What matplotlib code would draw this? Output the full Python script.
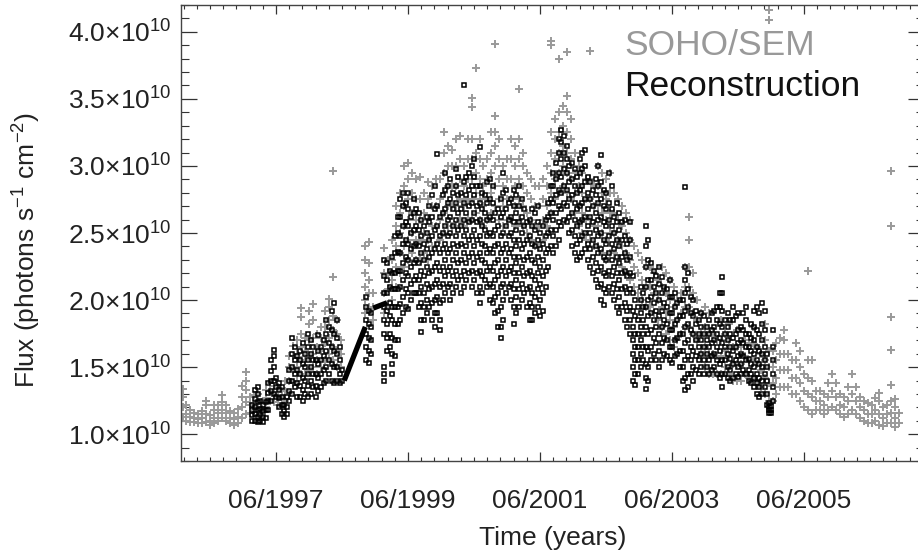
import numpy as np
import matplotlib
matplotlib.use("Agg")
import matplotlib.pyplot as plt
from matplotlib.ticker import FixedLocator, FixedFormatter

plt.rcParams['font.family'] = ['Liberation Sans', 'DejaVu Sans']
plt.rcParams['mathtext.fontset'] = 'custom'
plt.rcParams['mathtext.rm'] = 'Liberation Sans'
plt.rcParams['mathtext.it'] = 'Liberation Sans:italic'
plt.rcParams['mathtext.bf'] = 'Liberation Sans:bold'

# ---------------- data (flux in units of 1e10 photons s^-1 cm^-2) ----------------
sem_time = [
    1996.00, 1996.06, 1996.12, 1996.18, 1996.24, 1996.30, 1996.36, 1996.42, 1996.48, 1996.54,
    1996.60, 1996.66, 1996.72, 1996.78, 1996.84, 1996.90, 1996.96, 1997.02, 1997.08, 1997.14,
    1997.20, 1997.26, 1997.32, 1997.38, 1997.44, 1997.50, 1997.56, 1997.62, 1997.68, 1997.74,
    1997.80, 1997.86, 1997.92, 1997.98, 1998.04, 1998.10, 1998.16, 1998.22, 1998.28, 1998.34,
    1998.40, 1998.76, 1998.82, 1998.88, 1999.06, 1999.12, 1999.18, 1999.24, 1999.30, 1999.36,
    1999.42, 1999.48, 1999.54, 1999.60, 1999.66, 1999.72, 1999.78, 1999.84, 1999.90, 1999.96,
    2000.02, 2000.08, 2000.14, 2000.20, 2000.26, 2000.32, 2000.38, 2000.44, 2000.50, 2000.56,
    2000.62, 2000.68, 2000.74, 2000.80, 2000.86, 2000.92, 2000.98, 2001.04, 2001.10, 2001.16,
    2001.22, 2001.28, 2001.34, 2001.40, 2001.46, 2001.52, 2001.58, 2001.64, 2001.70, 2001.76,
    2001.82, 2001.88, 2001.94, 2002.00, 2002.06, 2002.12, 2002.18, 2002.24, 2002.30, 2002.36,
    2002.42, 2002.48, 2002.54, 2002.60, 2002.66, 2002.72, 2002.78, 2002.84, 2002.90, 2002.96,
    2003.02, 2003.08, 2003.14, 2003.20, 2003.26, 2003.32, 2003.38, 2003.44, 2003.50, 2003.56,
    2003.62, 2003.68, 2003.74, 2003.80, 2003.86, 2003.92, 2003.98, 2004.04, 2004.10, 2004.16,
    2004.22, 2004.28, 2004.34, 2004.40, 2004.46, 2004.52, 2004.58, 2004.64, 2004.70, 2004.76,
    2004.82, 2004.88, 2004.94, 2005.00, 2005.06, 2005.12, 2005.18, 2005.24, 2005.30, 2005.36,
    2005.42, 2005.48, 2005.54, 2005.60, 2005.66, 2005.72, 2005.78, 2005.84, 2005.90, 2005.96,
    2006.02, 2006.08, 2006.14, 2006.20, 2006.26, 2006.32, 2006.38, 2006.44, 2006.50, 2006.56,
    2006.62, 2006.68, 2006.74, 2006.80, 2006.86,
]
sem_flux = [
    [1.13, 1.20, 1.28, 1.34], [1.10, 1.15, 1.22], [1.09, 1.13, 1.18], [1.09, 1.12, 1.16],
    [1.08, 1.11, 1.15], [1.08, 1.12, 1.17], [1.09, 1.15, 1.22, 1.25], [1.07, 1.10, 1.14],
    [1.08, 1.12, 1.18, 1.22], [1.10, 1.16, 1.22], [1.12, 1.18, 1.24, 1.29], [1.10, 1.16, 1.22],
    [1.08, 1.12, 1.17], [1.07, 1.11, 1.16], [1.08, 1.13, 1.19], [1.12, 1.20, 1.28, 1.36],
    [1.15, 1.24, 1.33, 1.40, 1.46], [1.16, 1.22, 1.28], [1.18, 1.23, 1.29], [1.20, 1.25, 1.30],
    [1.18, 1.24], [1.20, 1.27, 1.33], [1.25, 1.32, 1.38], [1.24, 1.30, 1.36],
    [1.22, 1.28, 1.35], [1.20, 1.26, 1.32], [1.25, 1.32, 1.40], [1.30, 1.40, 1.50, 1.58],
    [1.38, 1.48, 1.58, 1.66], [1.40, 1.50, 1.60, 1.70],
    [1.45, 1.55, 1.65, 1.75, 1.87, 1.94], [1.45, 1.55, 1.62, 1.72],
    [1.48, 1.58, 1.70, 1.82, 1.92], [1.50, 1.60, 1.72, 1.85, 1.97], [1.45, 1.55, 1.65, 1.75],
    [1.50, 1.62, 1.72, 1.80], [1.55, 1.68, 1.80, 1.92], [1.60, 1.72, 1.85, 1.95, 2.01],
    [1.55, 1.65, 1.78, 1.88, 2.17, 2.96], [1.50, 1.62, 1.75, 1.85], [1.50, 1.60, 1.70],
    [1.90, 2.00, 2.10, 2.20, 2.30, 2.40], [1.95, 2.05, 2.15, 2.28, 2.43], [1.85, 1.95, 2.05],
    [1.90, 2.05, 2.20, 2.39], [1.95, 2.08, 2.20, 2.30], [2.00, 2.15, 2.30, 2.45],
    [2.10, 2.25, 2.40, 2.55, 2.70], [2.20, 2.35, 2.50, 2.65, 2.80],
    [2.25, 2.40, 2.55, 2.70, 2.85, 3.00], [2.30, 2.45, 2.60, 2.75, 2.90, 3.02],
    [2.35, 2.50, 2.65, 2.80, 2.95], [2.30, 2.45, 2.60, 2.75, 2.90],
    [2.30, 2.45, 2.60, 2.75, 2.92], [2.35, 2.50, 2.65, 2.80], [2.30, 2.45, 2.60, 2.75, 2.88],
    [2.40, 2.55, 2.70, 2.85], [2.40, 2.55, 2.70, 2.90], [2.45, 2.60, 2.75, 2.90],
    [2.50, 2.65, 2.80, 2.95, 3.10, 3.25], [2.55, 2.70, 2.85, 3.00, 3.15],
    [2.55, 2.70, 2.85, 3.00, 3.12], [2.55, 2.70, 2.85, 3.00, 3.20],
    [2.60, 2.75, 2.90, 3.05, 3.22], [2.55, 2.70, 2.85, 3.00], [2.60, 2.75, 2.90, 3.05, 3.20],
    [2.60, 2.75, 2.90, 3.05, 3.20, 3.44, 3.51], [2.65, 2.80, 2.95, 3.10, 3.73],
    [2.60, 2.75, 2.90, 3.05, 3.20], [2.55, 2.70, 2.85, 3.00], [2.60, 2.75, 2.90, 3.05],
    [2.65, 2.80, 2.95, 3.10, 3.25], [2.70, 2.85, 3.00, 3.15, 3.25, 3.37, 3.91],
    [2.60, 2.75, 2.90, 3.05, 3.20], [2.55, 2.70, 2.85, 3.00], [2.60, 2.75, 2.90, 3.05],
    [2.60, 2.75, 2.90, 3.05, 3.20], [2.55, 2.70, 2.85, 3.00, 3.15],
    [2.60, 2.75, 2.90, 3.05, 3.20, 3.57], [2.55, 2.70, 2.85, 3.00, 3.10],
    [2.50, 2.65, 2.80, 2.95], [2.45, 2.60, 2.75, 2.90], [2.40, 2.55, 2.70, 2.85],
    [2.40, 2.55, 2.70, 2.85], [2.45, 2.60, 2.75, 2.90], [2.55, 2.70, 2.85, 3.00],
    [2.65, 2.80, 2.95, 3.10, 3.25, 3.90, 3.93], [2.75, 2.90, 3.05, 3.20, 3.35],
    [2.80, 2.95, 3.10, 3.25, 3.40, 3.80], [2.85, 3.00, 3.15, 3.30, 3.45],
    [2.80, 2.95, 3.10, 3.25, 3.40, 3.52, 3.85], [2.75, 2.90, 3.05, 3.20, 3.35],
    [2.65, 2.80, 2.95, 3.10], [2.55, 2.70, 2.85, 3.00], [2.50, 2.65, 2.80, 2.95],
    [2.45, 2.60, 2.75, 2.90], [2.45, 2.60, 2.75, 2.90, 3.86], [2.40, 2.55, 2.70, 2.85],
    [2.40, 2.55, 2.70, 2.85, 3.00], [2.35, 2.50, 2.65, 2.80, 2.95],
    [2.30, 2.45, 2.60, 2.75, 2.90], [2.35, 2.50, 2.65, 2.80, 2.95], [2.35, 2.50, 2.65, 2.80],
    [2.30, 2.45, 2.60, 2.75], [2.25, 2.40, 2.55, 2.70], [2.20, 2.35, 2.50, 2.65],
    [2.15, 2.30, 2.45, 2.60], [2.10, 2.25, 2.40], [2.05, 2.20, 2.35], [2.00, 2.15, 2.30],
    [1.95, 2.10, 2.25], [1.95, 2.10, 2.25], [1.90, 2.05, 2.20], [1.85, 2.00, 2.15],
    [1.80, 1.95, 2.10, 2.25], [1.75, 1.90, 2.05, 2.20], [1.70, 1.85, 2.00, 2.15],
    [1.65, 1.80, 1.95, 2.10], [1.70, 1.85, 2.00], [1.75, 1.90, 2.05],
    [1.80, 1.95, 2.10, 2.25], [1.80, 1.95, 2.10, 2.25, 2.45, 2.62], [1.75, 1.90, 2.05, 2.20],
    [1.70, 1.85, 2.00], [1.60, 1.75, 1.90], [1.50, 1.65, 1.80, 1.95], [1.45, 1.60, 1.75, 1.90],
    [1.45, 1.60, 1.75], [1.45, 1.58, 1.70], [1.45, 1.58, 1.70, 1.85], [1.50, 1.62, 1.75],
    [1.45, 1.58, 1.70, 1.82], [1.40, 1.52, 1.65], [1.40, 1.52, 1.65, 1.78], [1.40, 1.52, 1.65],
    [1.45, 1.58, 1.70], [1.42, 1.55, 1.68], [1.42, 1.55, 1.68, 1.80], [1.40, 1.52, 1.65],
    [1.35, 1.48, 1.60], [1.30, 1.42, 1.55, 1.70, 1.82], [1.25, 1.38, 1.50, 1.62, 4.09, 4.16],
    [1.25, 1.38, 1.50, 1.62], [1.30, 1.42, 1.55, 1.68], [1.35, 1.48, 1.60, 1.72],
    [1.35, 1.48, 1.60, 1.70, 1.78], [1.35, 1.48, 1.60], [1.30, 1.42, 1.55],
    [1.30, 1.42, 1.55, 1.68], [1.25, 1.38, 1.50, 1.62], [1.20, 1.32, 1.45],
    [1.18, 1.30, 1.42, 1.55, 2.22], [1.15, 1.28, 1.40, 1.55], [1.18, 1.25, 1.32],
    [1.18, 1.25, 1.32], [1.15, 1.22, 1.30], [1.18, 1.28, 1.38], [1.20, 1.32, 1.45],
    [1.18, 1.28, 1.38], [1.15, 1.22, 1.30], [1.13, 1.20, 1.28], [1.15, 1.25, 1.35],
    [1.18, 1.30, 1.45], [1.15, 1.25, 1.35], [1.12, 1.20, 1.28], [1.10, 1.18, 1.25],
    [1.08, 1.15, 1.23], [1.08, 1.15, 1.22], [1.10, 1.18, 1.27], [1.07, 1.15, 1.25, 1.31],
    [1.06, 1.12, 1.20], [1.08, 1.15, 1.22],
    [1.08, 1.16, 1.25, 1.37, 1.63, 1.87, 2.55, 2.96], [1.05, 1.12, 1.20, 1.26], [1.08, 1.16],
]

rec_time = [
    1997.06, 1997.10, 1997.14, 1997.18, 1997.22, 1997.26, 1997.30, 1997.34, 1997.38, 1997.42,
    1997.46, 1997.50, 1997.54, 1997.58, 1997.62, 1997.66, 1997.70, 1997.74, 1997.78, 1997.82,
    1997.86, 1997.90, 1997.94, 1997.98, 1998.02, 1998.06, 1998.10, 1998.14, 1998.18, 1998.22,
    1998.26, 1998.30, 1998.34, 1998.38, 1998.42, 1998.78, 1998.82, 1998.86,
    1999.06, 1999.10, 1999.14, 1999.18, 1999.22, 1999.26, 1999.30, 1999.34, 1999.38, 1999.42,
    1999.46, 1999.50, 1999.54, 1999.58, 1999.62, 1999.66, 1999.70, 1999.74, 1999.78, 1999.82,
    1999.86, 1999.90, 1999.94, 1999.98, 2000.02, 2000.06, 2000.10, 2000.14, 2000.18, 2000.22,
    2000.26, 2000.30, 2000.34, 2000.38, 2000.42, 2000.46, 2000.50, 2000.54, 2000.58, 2000.62,
    2000.66, 2000.70, 2000.74, 2000.78, 2000.82, 2000.86, 2000.90, 2000.94, 2000.98, 2001.02,
    2001.06, 2001.10, 2001.14, 2001.18, 2001.22, 2001.26, 2001.30, 2001.34, 2001.38, 2001.42,
    2001.46, 2001.50, 2001.54, 2001.58, 2001.62, 2001.66, 2001.70, 2001.74, 2001.78, 2001.82,
    2001.86, 2001.90, 2001.94, 2001.98, 2002.02, 2002.06, 2002.10, 2002.14, 2002.18, 2002.22,
    2002.26, 2002.30, 2002.34, 2002.38, 2002.42, 2002.46, 2002.50, 2002.54, 2002.58, 2002.62,
    2002.66, 2002.70, 2002.74, 2002.78, 2002.82, 2002.86, 2002.90, 2002.94, 2002.98, 2003.02,
    2003.06, 2003.10, 2003.14, 2003.18, 2003.22, 2003.26, 2003.30, 2003.34, 2003.38, 2003.42,
    2003.46, 2003.50, 2003.54, 2003.58, 2003.62, 2003.66, 2003.70, 2003.74, 2003.78, 2003.82,
    2003.86, 2003.90, 2003.94, 2003.98, 2004.02, 2004.06, 2004.10, 2004.14, 2004.18, 2004.22,
    2004.26, 2004.30, 2004.34, 2004.38, 2004.42, 2004.46, 2004.50, 2004.54, 2004.58, 2004.62,
    2004.66, 2004.70, 2004.74, 2004.78, 2004.82, 2004.86, 2004.89, 2004.92, 2004.95,
]
rec_flux = [
    [1.10, 1.14, 1.18, 1.22], [1.10, 1.15, 1.20, 1.26, 1.33], [1.09, 1.13, 1.18, 1.24, 1.30, 1.35],
    [1.10, 1.14, 1.19, 1.25], [1.09, 1.13, 1.17, 1.22], [1.12, 1.18, 1.24],
    [1.18, 1.25, 1.31, 1.38], [1.25, 1.32, 1.40, 1.47, 1.55], [1.30, 1.40, 1.50, 1.58, 1.63],
    [1.28, 1.35, 1.42], [1.20, 1.27, 1.33, 1.38], [1.15, 1.22, 1.28, 1.35], [1.13, 1.17, 1.22],
    [1.15, 1.20, 1.28], [1.25, 1.32, 1.40, 1.48], [1.30, 1.40, 1.50, 1.60, 1.72],
    [1.35, 1.45, 1.55, 1.65], [1.28, 1.38, 1.48, 1.58], [1.28, 1.36, 1.45, 1.55, 1.62],
    [1.25, 1.33, 1.42, 1.52, 1.68], [1.30, 1.40, 1.50, 1.60],
    [1.28, 1.36, 1.45, 1.55, 1.65, 1.75], [1.30, 1.40, 1.50, 1.60, 1.70],
    [1.35, 1.45, 1.55, 1.65], [1.28, 1.36, 1.45, 1.55], [1.32, 1.42, 1.52, 1.62, 1.74],
    [1.35, 1.45, 1.55, 1.65], [1.38, 1.48, 1.58, 1.70], [1.40, 1.50, 1.62, 1.75, 1.85],
    [1.45, 1.55, 1.68, 1.80], [1.40, 1.52, 1.65, 1.78, 1.92], [1.38, 1.50, 1.62, 1.75, 1.98],
    [1.40, 1.50, 1.60, 1.72, 1.85], [1.38, 1.45, 1.55, 1.65], [1.40, 1.48],
    [1.55, 1.65, 1.75, 1.85, 1.95, 2.02], [1.53, 1.62, 1.72, 1.82, 1.92], [1.60, 1.70, 1.80, 1.90],
    [1.40, 1.45, 1.50, 1.75, 1.85, 1.95, 2.05, 2.18, 2.30],
    [1.62, 1.72, 1.82, 1.92, 2.05, 2.15, 2.28], [1.65, 1.75, 1.88, 1.98, 2.10, 2.22],
    [1.45, 1.52, 1.60, 1.72, 1.85, 1.95, 2.08, 2.20, 2.32],
    [1.58, 1.70, 1.82, 1.95, 2.08, 2.20, 2.35, 2.48],
    [1.70, 1.82, 1.95, 2.08, 2.22, 2.36, 2.50, 2.62],
    [1.85, 1.97, 2.10, 2.22, 2.35, 2.48, 2.62, 2.75],
    [1.90, 2.02, 2.15, 2.28, 2.42, 2.55, 2.70, 2.80],
    [1.95, 2.08, 2.20, 2.32, 2.45, 2.58, 2.72],
    [1.93, 2.05, 2.18, 2.30, 2.42, 2.55, 2.68, 2.80],
    [2.00, 2.12, 2.25, 2.38, 2.50, 2.62], [2.05, 2.15, 2.28, 2.40, 2.52, 2.65, 2.75],
    [2.05, 2.18, 2.30, 2.42, 2.55, 2.68], [1.95, 2.05, 2.15, 2.28, 2.40, 2.52, 2.65],
    [1.76, 1.85, 1.98, 2.10, 2.22, 2.35, 2.48, 2.60], [1.85, 1.95, 2.05, 2.18, 2.30, 2.42, 2.55],
    [1.90, 2.00, 2.12, 2.25, 2.38, 2.50, 2.62], [1.95, 2.08, 2.20, 2.32, 2.45, 2.58, 2.70],
    [1.85, 1.98, 2.10, 2.22, 2.35, 2.48, 2.62, 2.78],
    [1.80, 1.90, 2.00, 2.12, 2.25, 2.38, 2.52, 2.68, 2.85],
    [1.90, 2.02, 2.15, 2.28, 2.42, 2.55, 2.70, 3.09],
    [1.78, 1.85, 1.98, 2.10, 2.22, 2.35, 2.48, 2.62],
    [2.00, 2.12, 2.25, 2.38, 2.50, 2.65, 2.78],
    [2.05, 2.18, 2.30, 2.42, 2.55, 2.68, 2.82, 2.95],
    [2.10, 2.22, 2.35, 2.48, 2.60, 2.72, 2.85],
    [2.00, 2.12, 2.25, 2.38, 2.50, 2.62, 2.75, 2.90],
    [2.05, 2.18, 2.30, 2.42, 2.55, 2.68, 2.80],
    [2.10, 2.22, 2.35, 2.48, 2.60, 2.72, 2.85, 2.98],
    [2.15, 2.28, 2.40, 2.52, 2.65, 2.78, 2.92],
    [2.05, 2.18, 2.30, 2.42, 2.55, 2.68, 2.80],
    [2.10, 2.22, 2.35, 2.48, 2.60, 2.72, 2.88, 3.60],
    [2.15, 2.28, 2.40, 2.52, 2.65, 2.78, 2.92],
    [2.20, 2.32, 2.45, 2.58, 2.70, 2.82, 2.95],
    [2.10, 2.22, 2.35, 2.48, 2.60, 2.72, 2.85, 3.00],
    [2.15, 2.28, 2.40, 2.52, 2.65, 2.78, 2.92, 3.05],
    [2.05, 2.20, 2.32, 2.45, 2.58, 2.70, 2.85],
    [1.98, 2.10, 2.22, 2.35, 2.48, 2.60, 2.72, 2.85, 3.14],
    [2.05, 2.18, 2.30, 2.42, 2.55, 2.68, 2.80],
    [2.15, 2.28, 2.40, 2.52, 2.65, 2.78],
    [2.10, 2.22, 2.35, 2.48, 2.60, 2.72, 2.88],
    [2.00, 2.12, 2.25, 2.38, 2.50, 2.62, 2.75, 2.90],
    [1.98, 2.10, 2.22, 2.35, 2.48, 2.60, 2.72, 2.85],
    [1.90, 2.02, 2.15, 2.28, 2.40, 2.52, 2.65],
    [1.80, 1.92, 2.05, 2.18, 2.30, 2.42, 2.55, 2.68],
    [1.72, 1.80, 1.95, 2.10, 2.22, 2.35, 2.48, 2.62, 2.75],
    [1.85, 2.00, 2.12, 2.25, 2.38, 2.50, 2.65, 2.80, 2.95],
    [2.05, 2.18, 2.30, 2.42, 2.55, 2.68, 2.82],
    [2.10, 2.22, 2.35, 2.48, 2.60, 2.72],
    [2.00, 2.12, 2.25, 2.38, 2.50, 2.62, 2.75],
    [1.82, 1.95, 2.08, 2.20, 2.32, 2.45, 2.58, 2.70, 2.82],
    [1.90, 2.02, 2.15, 2.28, 2.40, 2.52, 2.65, 2.78],
    [1.95, 2.08, 2.20, 2.32, 2.45, 2.58, 2.70, 2.85],
    [2.00, 2.12, 2.25, 2.38, 2.50, 2.62, 2.75],
    [2.05, 2.18, 2.30, 2.42, 2.55, 2.68],
    [1.95, 2.08, 2.20, 2.32, 2.45, 2.58],
    [1.85, 1.98, 2.10, 2.22, 2.35, 2.48, 2.60],
    [1.85, 1.95, 2.05, 2.18, 2.30, 2.42, 2.55, 2.68],
    [1.90, 2.02, 2.15, 2.28, 2.40, 2.52, 2.65],
    [1.95, 2.08, 2.20, 2.32, 2.45, 2.58, 2.70],
    [1.88, 2.00, 2.12, 2.25, 2.38, 2.50],
    [1.92, 2.05, 2.18, 2.30, 2.42, 2.55],
    [2.10, 2.22, 2.35, 2.48, 2.60],
    [2.25, 2.38, 2.50, 2.62, 2.72],
    [2.40, 2.52, 2.65, 2.75, 2.85],
    [2.35, 2.48, 2.60, 2.72, 2.85, 2.95],
    [2.40, 2.52, 2.65, 2.78, 2.90, 3.02],
    [2.45, 2.58, 2.70, 2.82, 2.95, 3.10, 3.20],
    [2.55, 2.68, 2.80, 2.92, 3.05, 3.18, 3.27],
    [2.60, 2.72, 2.85, 2.98, 3.10, 3.22],
    [2.58, 2.70, 2.82, 2.95, 3.05, 3.15],
    [2.50, 2.62, 2.75, 2.88, 3.00],
    [2.40, 2.52, 2.65, 2.78, 2.90, 3.02],
    [2.35, 2.48, 2.60, 2.72, 2.85, 2.98],
    [2.30, 2.42, 2.55, 2.68, 2.80, 2.92],
    [2.32, 2.45, 2.58, 2.70, 2.82, 2.95, 3.05],
    [2.35, 2.48, 2.60, 2.72, 2.85, 2.98, 3.10],
    [2.38, 2.50, 2.62, 2.75, 2.88, 3.00, 3.12],
    [2.30, 2.42, 2.55, 2.68, 2.80, 2.92],
    [2.25, 2.38, 2.50, 2.62, 2.75, 2.88],
    [2.20, 2.32, 2.45, 2.58, 2.70, 2.82],
    [2.15, 2.28, 2.40, 2.52, 2.65, 2.78, 2.90],
    [2.10, 2.22, 2.35, 2.48, 2.60, 2.72, 2.85, 3.00],
    [2.00, 2.12, 2.25, 2.38, 2.50, 2.62, 2.75, 2.88, 3.08],
    [1.96, 2.08, 2.20, 2.32, 2.45, 2.58, 2.70, 2.82],
    [2.05, 2.18, 2.30, 2.42, 2.55, 2.68, 2.80],
    [2.10, 2.22, 2.35, 2.48, 2.60, 2.72, 2.95],
    [2.05, 2.18, 2.30, 2.42, 2.55, 2.68, 2.85],
    [2.00, 2.12, 2.25, 2.38, 2.50, 2.62],
    [1.95, 2.08, 2.20, 2.32, 2.45, 2.58, 2.72],
    [1.90, 2.02, 2.15, 2.28, 2.40, 2.52, 2.65],
    [1.95, 2.08, 2.20, 2.32, 2.45, 2.58],
    [1.85, 1.98, 2.10, 2.22, 2.35, 2.48, 2.60],
    [1.80, 1.92, 2.05, 2.18, 2.30, 2.42],
    [1.75, 1.85, 1.95, 2.08, 2.20, 2.32, 2.45, 2.58],
    [1.40, 1.50, 1.60, 1.70, 1.80, 1.92, 2.05, 2.18],
    [1.37, 1.45, 1.55, 1.65, 1.75, 1.88, 2.00],
    [1.45, 1.55, 1.65, 1.75, 1.85, 1.95],
    [1.50, 1.60, 1.70, 1.80, 1.90, 2.00, 2.10],
    [1.55, 1.65, 1.75, 1.85, 1.95, 2.05],
    [1.34, 1.42, 1.52, 1.65, 1.80, 1.95, 2.10, 2.25, 2.40, 2.55],
    [1.40, 1.50, 1.62, 1.75, 1.88, 2.00, 2.15, 2.30, 2.45],
    [1.55, 1.65, 1.78, 1.90, 2.02, 2.15, 2.28],
    [1.60, 1.72, 1.85, 1.98, 2.10, 2.22],
    [1.55, 1.68, 1.80, 1.92, 2.05, 2.18],
    [1.50, 1.62, 1.75, 1.88, 2.00, 2.12, 2.25],
    [1.55, 1.68, 1.80, 1.92, 2.05, 2.17],
    [1.60, 1.72, 1.85, 1.98, 2.10],
    [1.58, 1.70, 1.82, 1.95, 2.08],
    [1.55, 1.65, 1.78, 1.90, 2.02, 2.15],
    [1.53, 1.65, 1.78, 1.90, 2.02],
    [1.58, 1.70, 1.82, 1.95, 2.05],
    [1.60, 1.72, 1.85, 1.98],
    [1.50, 1.62, 1.75, 1.88, 2.00],
    [1.40, 1.50, 1.62, 1.75, 1.88, 2.00],
    [1.33, 1.42, 1.55, 1.68, 1.80, 1.92, 2.05, 2.15, 2.25, 2.84],
    [1.35, 1.45, 1.58, 1.70, 1.82, 1.95, 2.08, 2.20],
    [1.45, 1.55, 1.65, 1.78, 1.90, 2.02],
    [1.40, 1.50, 1.62, 1.75, 1.88, 2.00],
    [1.48, 1.58, 1.70, 1.82, 1.92],
    [1.45, 1.55, 1.65, 1.75, 1.85],
    [1.50, 1.60, 1.70, 1.80, 1.90],
    [1.45, 1.55, 1.65, 1.75, 1.88],
    [1.50, 1.60, 1.70, 1.80],
    [1.45, 1.55, 1.65, 1.75, 1.85],
    [1.48, 1.58, 1.68, 1.78, 1.90],
    [1.50, 1.60, 1.70, 1.80, 1.92],
    [1.45, 1.55, 1.65, 1.75, 1.85, 1.95],
    [1.42, 1.52, 1.62, 1.72, 1.82, 1.95, 2.05],
    [1.35, 1.45, 1.55, 1.68, 1.80, 1.92, 2.05, 2.17],
    [1.45, 1.55, 1.65, 1.75, 1.85],
    [1.42, 1.50, 1.60, 1.70, 1.80, 1.90],
    [1.40, 1.48, 1.56, 1.65, 1.75, 1.85],
    [1.42, 1.52, 1.62, 1.72, 1.85, 1.95],
    [1.45, 1.55, 1.65, 1.75, 1.88],
    [1.43, 1.50, 1.58, 1.68, 1.78, 1.90],
    [1.45, 1.52, 1.60, 1.70, 1.80],
    [1.48, 1.58, 1.68, 1.78, 1.90],
    [1.45, 1.55, 1.65, 1.75, 1.85, 1.95],
    [1.40, 1.48, 1.56, 1.65, 1.75],
    [1.38, 1.45, 1.52, 1.62, 1.72, 1.82],
    [1.35, 1.42, 1.50, 1.60, 1.70, 1.80, 1.92],
    [1.30, 1.38, 1.45, 1.55, 1.65, 1.78, 1.95],
    [1.28, 1.35, 1.42, 1.52, 1.62, 1.75, 1.90],
    [1.30, 1.40, 1.50, 1.60, 1.70, 1.82, 1.98],
    [1.35, 1.45, 1.55, 1.65, 1.78, 1.92],
    [1.22, 1.30, 1.40, 1.50, 1.60],
    [1.16, 1.18, 1.20, 1.23],
    [1.16, 1.18, 1.21],
    [1.25, 1.35, 1.45, 1.55, 1.65, 1.78],
]

# data gaps in the reconstruction, bridged by straight segments
rec_gap_time = [[1998.45, 1998.77], [1998.89, 1999.10]]
rec_gap_flux = [[1.40, 1.80], [1.94, 1.98]]

xtick_years = [1997.416, 1999.416, 2001.416, 2003.416, 2005.416]
xtick_labels = ['06/1997', '06/1999', '06/2001', '06/2003', '06/2005']
ytick_values = [1.0, 1.5, 2.0, 2.5, 3.0, 3.5, 4.0]
series_labels = ['SOHO/SEM', 'Reconstruction']

# ---------------- figure ----------------
W, H = 918, 556
fig = plt.figure(figsize=(W / 100, H / 100), dpi=100)
ax = fig.add_axes([181 / W, 1 - 461 / H, (924 - 181) / W, (461 - 5) / H])

sem_x = np.concatenate([[t] * len(v) for t, v in zip(sem_time, sem_flux)])
sem_y = np.concatenate(sem_flux)
rec_x = np.concatenate([[t] * len(v) for t, v in zip(rec_time, rec_flux)])
rec_y = np.concatenate(rec_flux)

gray = '#999999'
ax.plot(sem_x, sem_y, linestyle='none', marker='+', ms=6.0, mew=1.4, color=gray, zorder=2)
for gt, gf in zip(rec_gap_time, rec_gap_flux):
    ax.plot(gt, gf, color='black', lw=3.8, solid_capstyle='butt', zorder=3)
ax.plot(rec_x, rec_y, linestyle='none', marker='s', ms=3.4, mew=1.1,
        markerfacecolor='none', markeredgecolor='black', zorder=3)

ax.set_xlim(1995.977, 2007.235)
ax.set_ylim(0.8, 4.2)

ax.xaxis.set_major_locator(FixedLocator(xtick_years))
ax.xaxis.set_major_formatter(FixedFormatter(xtick_labels))
ax.xaxis.set_minor_locator(FixedLocator([1995.416 + 0.2 * k for k in range(60)]))
ax.yaxis.set_major_locator(FixedLocator(ytick_values))
ax.yaxis.set_major_formatter(FixedFormatter(
    ['%.1f\u00d710$^{10}$' % v for v in ytick_values]))
ax.yaxis.set_minor_locator(FixedLocator([0.8 + 0.1 * k for k in range(35)]))

tc = '#222222'
ax.tick_params(axis='both', which='both', direction='in', colors='#333333',
               labelcolor=tc, top=True, bottom=True, left=True, right=True)
ax.tick_params(axis='y', which='major', length=11.3, width=0.9, pad=6.5, labelsize=19)
ax.tick_params(axis='y', which='minor', length=5.8, width=0.8)
ax.tick_params(axis='x', which='major', length=6.3, width=0.9, pad=20, labelsize=19)
ax.tick_params(axis='x', which='minor', length=2.9, width=0.8)
for s in ax.spines.values():
    s.set_color('#444444')
    s.set_linewidth(1.0)

fig.text(552.5 / W, 1 - 538 / H, 'Time (years)', ha='center', va='center',
         fontsize=19, color=tc)
fig.text(27 / W, 1 - 250 / H,
         'Flux (photons s$^{\\mathregular{-1}}$ cm$^{\\mathregular{-2}}$)',
         rotation=90, ha='center', va='center', fontsize=19, color=tc)

fig.text(624 / W, 1 - 55 / H, series_labels[0], ha='left', va='baseline',
         fontsize=25.5, color=gray)
fig.text(624 / W, 1 - 96 / H, series_labels[1], ha='left', va='baseline',
         fontsize=25.5, color='#111111')

fig.savefig('out.png', dpi=100)
